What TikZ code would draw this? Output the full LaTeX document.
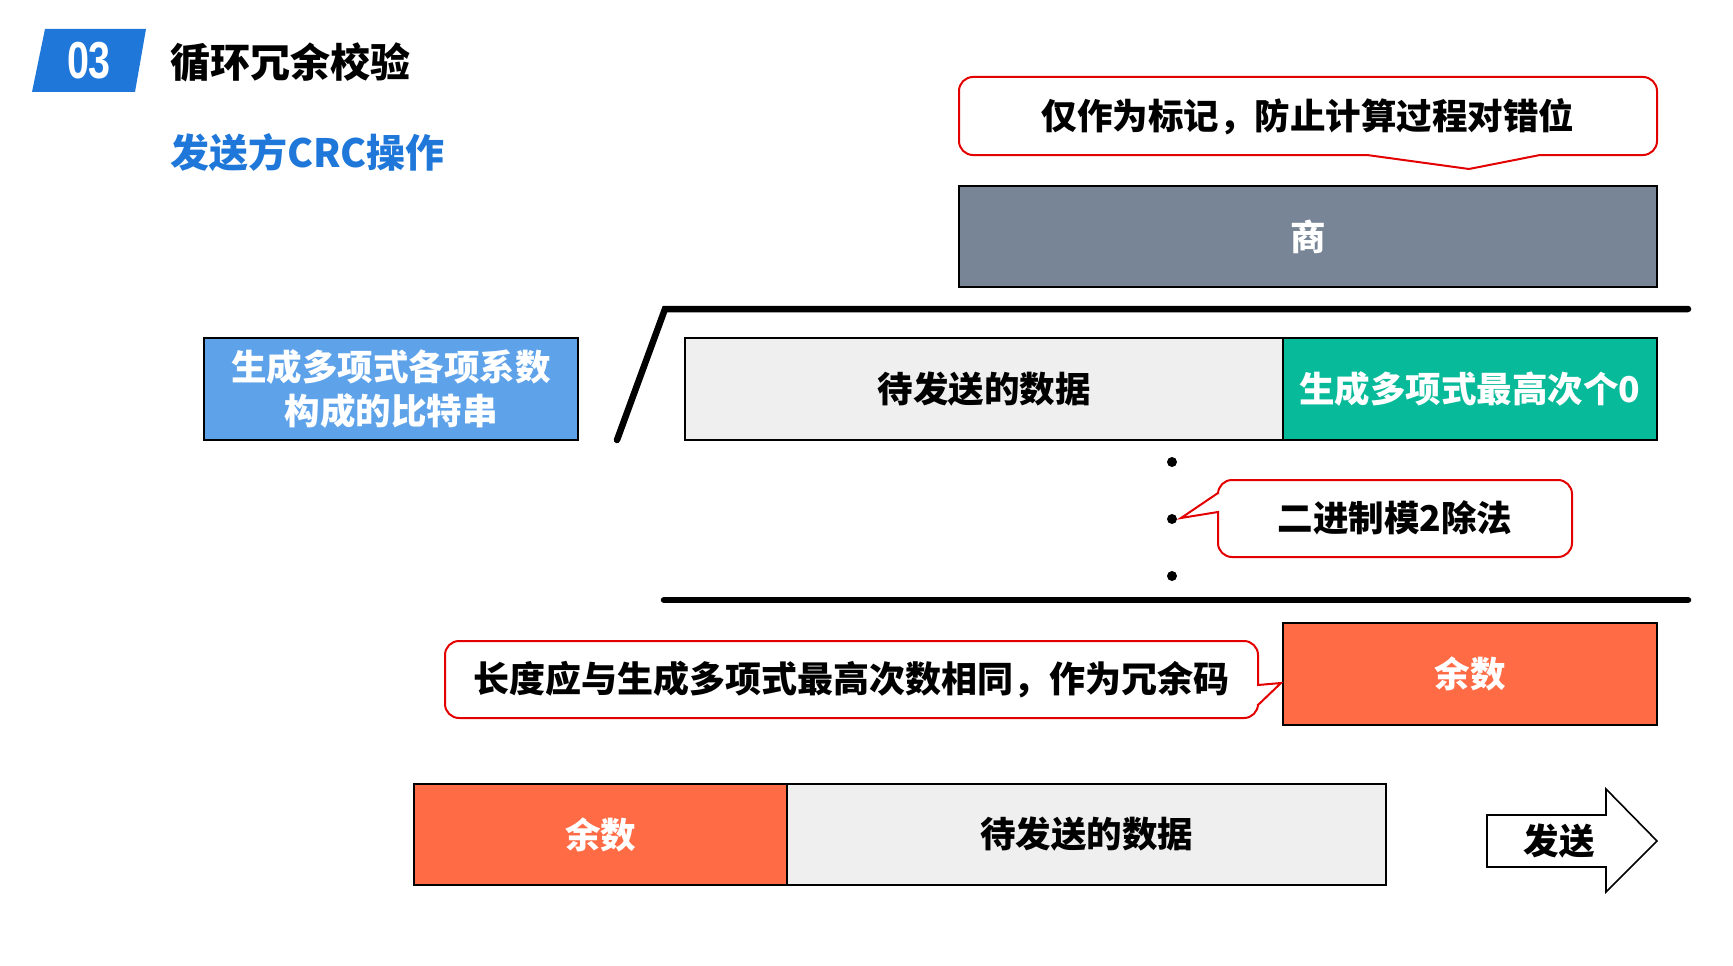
\documentclass[tikz,border=0pt]{standalone}
\usepackage{fontspec}
\setmainfont{Noto Sans CJK SC}
\newfontfamily\numfont{Liberation Sans}[FakeStretch=0.76]
\definecolor{tagblue}{HTML}{1F78D9}
\definecolor{shanggray}{HTML}{788596}
\definecolor{genblue}{HTML}{5EA3EA}
\definecolor{zgreen}{HTML}{06BA9A}
\definecolor{remorange}{HTML}{FF6B45}
\definecolor{lightgray}{HTML}{EFEFEF}
\definecolor{calloutred}{HTML}{E30000}
\tikzset{
  txt/.style={font=\bfseries\fontsize{35.5}{44}\selectfont},
  box/.style={draw=black, line width=2.2pt, inner sep=0pt, txt, align=center},
  callout/.style={draw=calloutred, line width=2pt, fill=white},
  bigline/.style={line width=6.5pt, line cap=round},
  dot/.style={circle, fill=black, inner sep=0pt, minimum size=10pt},
}
\begin{document}
\begin{tikzpicture}[x=1pt, y=-1pt]
\path[use as bounding box] (0,0) rectangle (1733,966);

% header
\fill[tagblue] (45,29) -- (146,29) -- (135,92) -- (32,92) -- cycle;
\node[text=white, font=\numfont\bfseries\fontsize{52}{52}\selectfont] (n03) at (89,61) {03};
\node[anchor=west, font=\bfseries\fontsize{40}{48}\selectfont, inner sep=0pt] (title) at (170,62) {循环冗余校验};
\node[anchor=west, text=tagblue, font=\bfseries\fontsize{39}{48}\selectfont, inner sep=0pt] (subtitle) at (170,153) {发送方CRC操作};

% top callout
\draw[callout] (1469,169) -- (1540,155) [rounded corners=14] -- (1657,155) -- (1657,77) -- (959,77) -- (959,155) [sharp corners] -- (1367,155) -- cycle;
\node[txt] (c1) at (1308,117) {仅作为标记，防止计算过程对错位};

% quotient
\node[box, fill=shanggray, text=white, minimum width=698, minimum height=101] (shang) at (1308,236.5) {商};

% division bracket
\coordinate (lb) at (617,440);
\coordinate (lc) at (665,309);
\coordinate (le) at (1688,309);
\draw[bigline] (lb) -- (lc) -- (le);

% generator
\node[box, fill=genblue, text=white, minimum width=374, minimum height=102] (gen) at (391,389) {生成多项式各项系数\\构成的比特串};

% dividend
\node[box, fill=lightgray, text=black, minimum width=598, minimum height=102] (data1) at (984,389) {待发送的数据};
\node[box, fill=zgreen, text=white, minimum width=374, minimum height=102] (zeros) at (1470,389) {生成多项式最高次个0};

% dots
\node[dot] (d1) at (1172,462) {};
\node[dot] (d2) at (1172,519) {};
\node[dot] (d3) at (1172,576) {};

% mod-2 callout
\draw[callout] (1181,518) -- (1218,512) [rounded corners=14] -- (1218,557) -- (1572,557) -- (1572,480) -- (1218,480) [sharp corners] -- (1218,493) -- cycle;
\node[txt] (c2) at (1395,518) {二进制模2除法};

% lower line
\coordinate (ll) at (664,600);
\coordinate (lr) at (1688,600);
\draw[bigline] (ll) -- (lr);

% remainder
\node[box, fill=remorange, text=white, minimum width=374, minimum height=102] (rem1) at (1470,674) {余数};

% length callout
\draw[callout] (1281,683) -- (1258,705) [rounded corners=14] -- (1258,718) -- (445,718) -- (445,641) -- (1258,641) [sharp corners] -- (1258,685) -- cycle;
\node[txt, font=\bfseries\fontsize{36}{44}\selectfont] (c3) at (851,680) {长度应与生成多项式最高次数相同，作为冗余码};

% frame to send
\node[box, fill=remorange, text=white, minimum width=373, minimum height=101] (rem2) at (600.5,834.5) {余数};
\node[box, fill=lightgray, text=black, minimum width=599, minimum height=101] (data2) at (1086.5,834.5) {待发送的数据};

% send arrow
\draw[line width=1.6pt, fill=white] (1487,815) -- (1606,815) -- (1606,789) -- (1657,841) -- (1606,892) -- (1606,867) -- (1487,867) -- cycle;
\node[txt] (send) at (1559,841) {发送};
\end{tikzpicture}
\end{document}
